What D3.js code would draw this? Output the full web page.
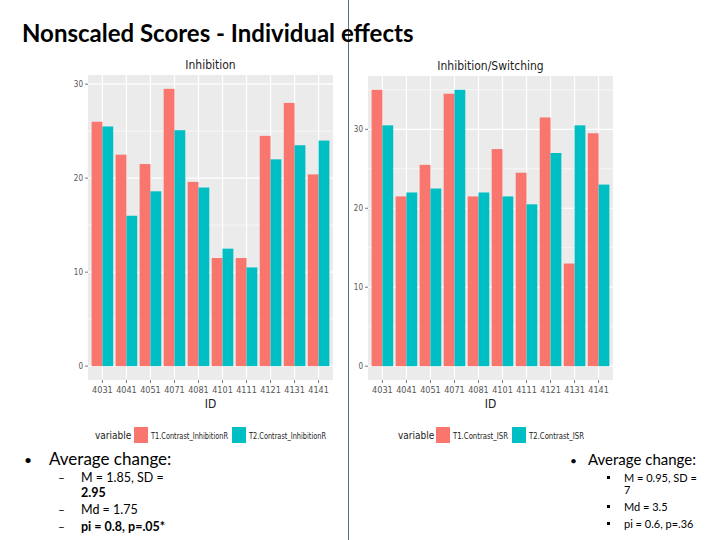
<!DOCTYPE html>
<html>
<head>
<meta charset="utf-8">
<script src="https://cdn.jsdelivr.net/npm/d3@7"></script>
<style>
  html, body { margin: 0; padding: 0; background: #fff; }
  svg { display: block; }
</style>
</head>
<body>
<svg id="chart" width="720" height="540"></svg>
<script>
// ---- Data ----
const ids = ["4031", "4041", "4051", "4071", "4081", "4101", "4111", "4121", "4131", "4141"];
const inhibitionT1 = [26, 22.5, 21.5, 29.5, 19.6, 11.5, 11.5, 24.5, 28, 20.4];
const inhibitionT2 = [25.5, 16, 18.6, 25.1, 19, 12.5, 10.5, 22, 23.5, 24];
const switchingT1 = [35, 21.5, 25.5, 34.5, 21.5, 27.5, 24.5, 31.5, 13, 29.5];
const switchingT2 = [30.5, 22, 22.5, 35, 22, 21.5, 20.5, 27, 30.5, 23];
const inhibitionSeries = ["T1.Contrast_InhibitionR", "T2.Contrast_InhibitionR"];
const switchingSeries = ["T1.Contrast_ISR", "T2.Contrast_ISR"];
const seriesColors = ["#F8766D", "#00BFC4"];
const yTicks = [0, 10, 20, 30];
const slideTitle = "Nonscaled Scores - Individual effects";
const leftNotes = ["M = 1.85, SD =", "2.95", "Md = 1.75", "pi = 0.8, p=.05*"];
const rightNotes = ["M = 0.95, SD =", "7", "Md = 3.5", "pi = 0.6, p=.36"];

const svg = d3.select("#chart");
const ggFont = "'DejaVu Sans Condensed', 'Liberation Sans Narrow', sans-serif";
const slideFont = "Lato, 'Open Sans', sans-serif";

function drawChart(cfg) {
  const g = svg.append("g");
  const {left, right, top, bottom} = cfg;
  const maxV = d3.max(cfg.t1.concat(cfg.t2));
  const pad = maxV * 0.05;
  const y = d3.scaleLinear().domain([-pad, maxV + pad]).range([bottom, top]);
  // discrete x axis: band scale with 0.6 expansion on each side
  const x = d3.scaleBand().domain(ids).range([left, right]).paddingInner(0).paddingOuter(0.1);
  const cx = (id) => x(id) + x.bandwidth() / 2;
  const barW = x.bandwidth() * 0.9 / 2;

  g.append("rect").attr("x", left).attr("y", top).attr("width", right - left).attr("height", bottom - top).attr("fill", "#EBEBEB");

  const minor = d3.range(5, maxV + pad, 10);
  g.selectAll(".minor").data(minor).enter().append("line")
    .attr("x1", left).attr("x2", right)
    .attr("y1", d => y(d)).attr("y2", d => y(d))
    .attr("stroke", "#fff").attr("stroke-width", 0.6);
  const ticks = yTicks.filter(t => t <= maxV + pad);
  g.selectAll(".major").data(ticks).enter().append("line")
    .attr("x1", left).attr("x2", right)
    .attr("y1", d => y(d)).attr("y2", d => y(d))
    .attr("stroke", "#fff").attr("stroke-width", 1.2);
  g.selectAll(".vgrid").data(ids).enter().append("line")
    .attr("x1", d => cx(d)).attr("x2", d => cx(d))
    .attr("y1", top).attr("y2", bottom)
    .attr("stroke", "#fff").attr("stroke-width", 1.2);

  [cfg.t1, cfg.t2].forEach((vals, s) => {
    g.selectAll(".bar" + s).data(vals).enter().append("rect")
      .attr("x", (d, i) => cx(ids[i]) - barW + s * barW)
      .attr("width", barW)
      .attr("y", d => y(d))
      .attr("height", d => y(0) - y(d))
      .attr("fill", seriesColors[s]);
  });

  ticks.forEach(t => {
    g.append("line").attr("x1", left - 3).attr("x2", left).attr("y1", y(t)).attr("y2", y(t))
      .attr("stroke", "#555").attr("stroke-width", 0.8);
    g.append("text").attr("x", left - 5).attr("y", y(t)).attr("dy", "0.35em")
      .attr("text-anchor", "end").attr("font-family", ggFont).attr("font-size", 8)
      .attr("fill", "#555").text(t);
  });
  ids.forEach(id => {
    g.append("line").attr("x1", cx(id)).attr("x2", cx(id)).attr("y1", bottom).attr("y2", bottom + 3)
      .attr("stroke", "#555").attr("stroke-width", 0.8);
    g.append("text").attr("x", cx(id)).attr("y", bottom + 13)
      .attr("text-anchor", "middle").attr("font-family", ggFont).attr("font-size", 9)
      .attr("fill", "#555").text(id);
  });
  g.append("text").attr("x", (left + right) / 2).attr("y", bottom + 28)
    .attr("text-anchor", "middle").attr("font-family", ggFont).attr("font-size", 12)
    .attr("fill", "#222").text("ID");
  g.append("text").attr("x", (left + right) / 2).attr("y", top - 6)
    .attr("text-anchor", "middle").attr("font-family", ggFont).attr("font-size", 12)
    .attr("fill", "#222").text(cfg.title);

  const ly = cfg.legendY;
  g.append("text").attr("x", cfg.legendX).attr("y", ly + 4).attr("font-family", ggFont)
    .attr("font-size", 10).attr("fill", "#222").text("variable");
  let lx = cfg.legendKeyX;
  cfg.series.forEach((name, s) => {
    g.append("rect").attr("x", lx).attr("y", ly - 8).attr("width", 14).attr("height", 16)
      .attr("fill", seriesColors[s]);
    g.append("text").attr("x", lx + 17).attr("y", ly + 4).attr("font-family", ggFont)
      .attr("font-size", 9).attr("fill", "#222")
      .attr("textLength", cfg.labelLen).attr("lengthAdjust", "spacingAndGlyphs").text(name);
    lx = lx + 17 + cfg.labelLen + 4;
  });
}

drawChart({
  left: 88, right: 333, top: 75, bottom: 380,
  t1: inhibitionT1, t2: inhibitionT2, title: "Inhibition",
  series: inhibitionSeries, legendY: 435, legendX: 95, legendKeyX: 134, labelLen: 77
});
drawChart({
  left: 368, right: 613, top: 76, bottom: 380,
  t1: switchingT1, t2: switchingT2, title: "Inhibition/Switching",
  series: switchingSeries, legendY: 435, legendX: 398, legendKeyX: 436, labelLen: 55
});

svg.append("line").attr("x1", 348.5).attr("x2", 348.5).attr("y1", 0).attr("y2", 540)
  .attr("stroke", "#5b6f86").attr("stroke-width", 1);

svg.append("text").attr("x", 22).attr("y", 42).attr("font-family", slideFont)
  .attr("font-weight", "bold").attr("font-size", 24).attr("fill", "#000").text(slideTitle);

// left notes
svg.append("text").attr("x", 24).attr("y", 465).attr("font-family", slideFont).attr("font-size", 14).text("•");
svg.append("text").attr("x", 49).attr("y", 465).attr("font-family", slideFont).attr("font-size", 17).text("Average change:");
const leftYs = [482, 497, 514, 531];
const leftDash = [true, false, true, true];
const leftBold = [false, true, false, true];
leftNotes.forEach((t, i) => {
  if (leftDash[i]) svg.append("text").attr("x", 58).attr("y", leftYs[i]).attr("font-family", slideFont).attr("font-size", 12).text("–");
  svg.append("text").attr("x", 81).attr("y", leftYs[i]).attr("font-family", slideFont)
    .attr("font-size", 12.5).attr("font-weight", leftBold[i] ? "bold" : "normal").text(t);
});

// right notes
svg.append("text").attr("x", 570).attr("y", 465).attr("font-family", slideFont).attr("font-size", 12).text("•");
svg.append("text").attr("x", 588).attr("y", 465).attr("font-family", slideFont).attr("font-size", 15).text("Average change:");
const rightYs = [482, 494, 511, 528];
const rightBullet = [true, false, true, true];
rightNotes.forEach((t, i) => {
  if (rightBullet[i]) svg.append("rect").attr("x", 607).attr("y", rightYs[i] - 6).attr("width", 3).attr("height", 3).attr("fill", "#000");
  svg.append("text").attr("x", 624).attr("y", rightYs[i]).attr("font-family", slideFont)
    .attr("font-size", 11).text(t);
});
</script>
</body>
</html>
